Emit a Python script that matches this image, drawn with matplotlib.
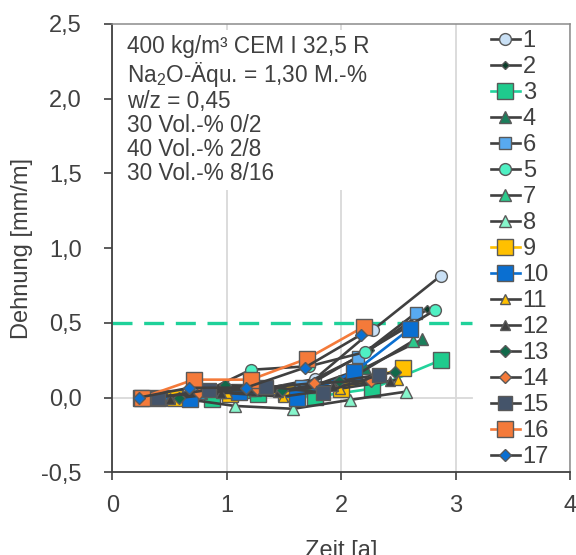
import numpy as np
import matplotlib.pyplot as plt

plt.rcParams['font.family'] = ['Liberation Sans', 'DejaVu Sans']
plt.rcParams['mathtext.fontset'] = 'custom'
plt.rcParams['mathtext.rm'] = 'Liberation Sans'
plt.rcParams['mathtext.it'] = 'Liberation Sans:italic'

# Reihen in Legendenreihenfolge
labels = ['1', '2', '3', '4', '6', '5', '7', '8', '9', '10',
          '11', '12', '13', '14', '15', '16', '17']

zeit = [
    [0.40, 0.87, 1.27, 1.77, 2.28, 2.87],   # 1
    [0.30, 0.75, 1.25, 1.75, 2.25, 2.75],   # 2
    [0.40, 0.87, 1.27, 1.77, 2.27, 2.87],   # 3
    [0.33, 0.77, 1.25, 1.72, 2.21, 2.71],   # 4
    [0.30, 0.75, 1.20, 1.65, 2.15, 2.65],   # 6
    [0.35, 0.78, 1.21, 1.72, 2.21, 2.82],   # 5
    [0.30, 0.70, 1.15, 1.63, 2.13, 2.63],   # 7
    [0.55, 1.07, 1.58, 2.08, 2.57],         # 8
    [0.55, 1.03, 1.52, 2.00, 2.54],         # 9
    [0.25, 0.68, 1.11, 1.61, 2.11, 2.60],   # 10
    [0.50, 1.00, 1.49, 1.99, 2.50],         # 11
    [0.50, 0.95, 1.45, 1.93, 2.43],         # 12
    [0.58, 0.98, 1.48, 1.98, 2.47],         # 13
    [0.30, 0.76, 1.26, 1.76, 2.26],         # 14
    [0.40, 0.84, 1.34, 1.84, 2.33],         # 15
    [0.26, 0.71, 1.21, 1.70, 2.20],         # 16
    [0.23, 0.67, 1.17, 1.68, 2.17],         # 17
]

dehnung = [
    [0.00, 0.02, 0.05, 0.125, 0.455, 0.815],   # 1
    [0.00, 0.03, 0.06, 0.10, 0.32, 0.59],      # 2
    [0.00, -0.01, 0.025, 0.005, 0.06, 0.25],   # 3
    [0.00, 0.03, 0.05, 0.07, 0.20, 0.39],      # 4
    [0.00, 0.03, 0.05, 0.08, 0.27, 0.565],     # 6
    [0.00, 0.03, 0.186, 0.21, 0.305, 0.585],   # 5
    [0.00, 0.02, 0.04, 0.05, 0.15, 0.38],      # 7
    [0.00, -0.056, -0.075, -0.015, 0.04],      # 8
    [0.00, 0.025, 0.03, 0.06, 0.20],           # 9
    [0.00, -0.01, 0.04, 0.00, 0.17, 0.46],     # 10
    [0.00, 0.03, 0.007, 0.06, 0.119],          # 11
    [-0.01, 0.03, 0.04, 0.08, 0.11],           # 12
    [0.00, 0.085, 0.05, 0.11, 0.17],           # 13
    [0.00, 0.03, 0.06, 0.097, 0.114],          # 14
    [0.00, 0.052, 0.074, 0.034, 0.15],         # 15
    [0.00, 0.12, 0.12, 0.26, 0.475],           # 16
    [0.00, 0.065, 0.067, 0.20, 0.42],          # 17
]

grenzwert = 0.5

x_ticks = [0, 1, 2, 3, 4]
x_tick_labels = ['0', '1', '2', '3', '4']
y_ticks = [-0.5, 0.0, 0.5, 1.0, 1.5, 2.0, 2.5]
y_tick_labels = ['-0,5', '0,0', '0,5', '1,0', '1,5', '2,0', '2,5']

info = ('400 kg/m³ CEM I 32,5 R\n'
        'Na$_2$O-Äqu. = 1,30 M.-%\n'
        'w/z = 0,45\n'
        '30 Vol.-% 0/2\n'
        '40 Vol.-% 2/8\n'
        '30 Vol.-% 8/16')

dgrau = '#404040'
# marker, groesse, fuellfarbe, linienfarbe
stil = [
    ('o', 8.5, '#c9e0f5', dgrau),
    ('D', 4.5, '#0b3d2a', dgrau),
    ('s', 11.5, '#1fcb8d', '#22d39c'),
    ('^', 8, '#1b7f5c', dgrau),
    ('s', 8.5, '#58aaf0', dgrau),
    ('o', 8.5, '#4ff0c3', dgrau),
    ('^', 8, '#2cc98c', dgrau),
    ('^', 8, '#86f5cb', dgrau),
    ('s', 11.5, '#ffc000', '#ffc000'),
    ('s', 11.5, '#0a6fd1', '#0a6fd1'),
    ('^', 7, '#ffc000', dgrau),
    ('^', 7.5, dgrau, dgrau),
    ('D', 6.5, '#11694a', dgrau),
    ('D', 6.5, '#f47a3a', dgrau),
    ('s', 9.5, '#44546a', dgrau),
    ('s', 11.5, '#f47a3a', '#f47a3a'),
    ('D', 6.5, '#0a6fd1', dgrau),
]

fig = plt.figure(figsize=(5.76, 5.55), dpi=100)
ax = fig.add_axes([0.1953, 0.149, 0.7943, 0.8078])

ax.grid(axis='x', color='#d9d9d9', linewidth=1.3, zorder=0)
ax.axhline(0, xmax=0.785, color='#d9d9d9', linewidth=1.3, zorder=0.5)
ax.axhline(grenzwert, xmax=0.785, color='#1fd19a', linewidth=2.4,
           dashes=(6, 3.5), zorder=1.5)

for lab, xs, ys, (m, ms, fc, lc) in zip(labels, zeit, dehnung, stil):
    ax.plot(xs, ys, color=lc, linewidth=1.9, marker=m, markersize=ms,
            markerfacecolor=fc, markeredgecolor='#595959', markeredgewidth=1.0,
            label=lab, zorder=2)

ax.set_xlim(0, 4)
ax.set_ylim(-0.5, 2.5)
ax.set_xticks(x_ticks)
ax.set_xticklabels(x_tick_labels)
ax.set_yticks(y_ticks)
ax.set_yticklabels(y_tick_labels)
ax.set_axisbelow(True)

for s in ['left', 'bottom']:
    ax.spines[s].set_color(dgrau)
    ax.spines[s].set_linewidth(1.3)
for s in ['top', 'right']:
    ax.spines[s].set_color('#8c8c8c')
    ax.spines[s].set_linewidth(1.1)
for s in ax.spines.values():
    s.set_zorder(6)

ax.tick_params(axis='y', direction='out', length=6, width=1.2, color=dgrau,
               pad=16, labelsize=17, labelcolor=dgrau)
ax.tick_params(axis='x', direction='out', length=6, width=1.2, color=dgrau,
               pad=10, labelsize=17, labelcolor=dgrau)

ax.set_xlabel('Zeit [a]', fontsize=17, color=dgrau, labelpad=17)
ax.set_ylabel('Dehnung [mm/m]', fontsize=17, color=dgrau, labelpad=6)

ax.text(0.032, 0.975, info, transform=ax.transAxes, va='top', ha='left',
        fontsize=16.3, color=dgrau, linespacing=1.06, zorder=4,
        bbox=dict(facecolor='white', edgecolor='none', pad=4))

leg = ax.legend(loc='upper left', bbox_to_anchor=(0.815, 1.0), borderaxespad=0,
                frameon=True, facecolor='white', edgecolor='none', framealpha=1,
                fancybox=False, fontsize=17, labelcolor=dgrau,
                handlelength=1.2, handletextpad=0.13, labelspacing=0.17,
                borderpad=0.25)

fig.savefig('out.png', dpi=100)
